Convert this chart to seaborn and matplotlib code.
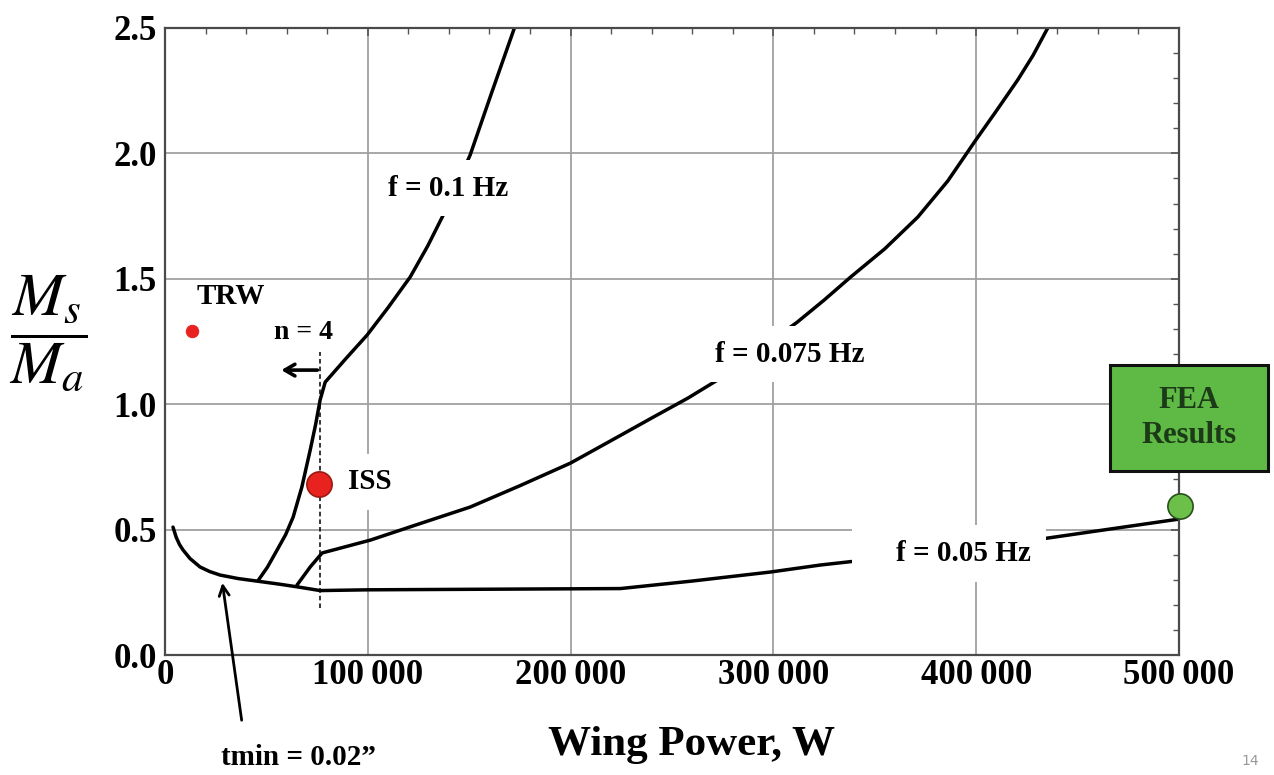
import seaborn as sns
import matplotlib.pyplot as plt
from matplotlib.patches import Rectangle

# values: wing power (W) vs mass ratio Ms/Ma
tmin_power = [3950, 5500, 7200, 8900, 12300, 17300, 22000, 27100, 36000,
              46000, 56000, 65100, 76500]
tmin_ratio = [0.510, 0.470, 0.440, 0.419, 0.385, 0.351, 0.333, 0.319, 0.305,
              0.294, 0.283, 0.272, 0.257]

f005_power = [76500, 100000, 150000, 224600, 260000, 298600, 323300, 380000,
              435000, 500000]
f005_ratio = [0.257, 0.260, 0.262, 0.265, 0.295, 0.331, 0.359, 0.410,
              0.466, 0.542]

f0075_power = [65100, 71600, 77500, 101200, 125000, 150500, 175000, 199900,
               220000, 240900, 258000, 274000, 292000, 311900, 325000, 338100,
               355000, 371200, 386000, 399800, 410000, 420500, 428000, 435300]
f0075_ratio = [0.279, 0.351, 0.407, 0.458, 0.522, 0.590, 0.675, 0.765,
               0.855, 0.949, 1.025, 1.104, 1.210, 1.328, 1.415, 1.507,
               1.620, 1.746, 1.890, 2.053, 2.170, 2.293, 2.390, 2.500]

f01_power = [46000, 50500, 55300, 59500, 63200, 67500, 71600, 74300, 76500,
             79000, 89000, 99700, 110000, 120900, 129500, 137700, 150500,
             161000, 172300]
f01_ratio = [0.298, 0.350, 0.419, 0.480, 0.550, 0.670, 0.817, 0.920, 1.017,
             1.088, 1.180, 1.276, 1.385, 1.507, 1.630, 1.762, 1.994,
             2.240, 2.500]

points_name = ["TRW", "ISS", "FEA"]
points_power = [13300, 76000, 500500]
points_ratio = [1.292, 0.682, 0.594]

n4_power = 76500
n4_range = [0.187, 1.208]

x_ticks = [0, 100000, 200000, 300000, 400000, 500000]
x_tick_labels = ["0", "100\u2009000", "200\u2009000", "300\u2009000",
                 "400\u2009000", "500\u2009000"]
y_ticks = [0.0, 0.5, 1.0, 1.5, 2.0, 2.5]
y_tick_labels = ["0.0", "0.5", "1.0", "1.5", "2.0", "2.5"]

sns.set_theme(style="white")
plt.rcParams["font.family"] = ["Liberation Serif", "DejaVu Serif"]
plt.rcParams["font.weight"] = "normal"
plt.rcParams["text.color"] = "black"
plt.rcParams["mathtext.fontset"] = "stix"

fig = plt.figure(figsize=(12.74, 7.75), dpi=100)
ax = fig.add_axes([0.1295, 0.1548, 0.7959, 0.8091])

# grid
for xv in x_ticks[1:]:
    ax.axvline(xv, color="#a0a0a0", lw=1.3, zorder=0)
for yv in y_ticks[1:]:
    ax.axhline(yv, color="#a0a0a0", lw=1.3, zorder=0)

# curves
for px, py in [(tmin_power, tmin_ratio), (f005_power, f005_ratio),
               (f0075_power, f0075_ratio), (f01_power, f01_ratio)]:
    sns.lineplot(x=px, y=py, ax=ax, color="black", lw=2.5, sort=False,
                 estimator=None, zorder=2)

# n = 4 limit
ax.plot([n4_power, n4_power], n4_range, color="black", lw=1.1,
        ls=(0, (3, 2)), zorder=3)
ax.annotate("", xy=(56000, 1.136), xytext=(n4_power, 1.136),
            arrowprops=dict(arrowstyle="->,head_length=0.6,head_width=0.35",
                            lw=2.6, color="black"), zorder=4)
ax.text(68500, 1.284, "n = 4", ha="center", va="center", fontsize=20,
        fontweight="bold", zorder=5)

# labels with white backgrounds
box = dict(facecolor="white", edgecolor="none", boxstyle="square,pad=0.5")
ax.text(139700, 1.862, "f = 0.1 Hz", ha="center", va="center", fontsize=21,
        fontweight="bold", bbox=box, zorder=5)
ax.text(308000, 1.20, "f = 0.075 Hz", ha="center", va="center", fontsize=21,
        fontweight="bold", bbox=box, zorder=5)
ax.text(427000, 0.405, "    f = 0.05 Hz", ha="right", va="center",
        fontsize=21, fontweight="bold", bbox=box, zorder=5)
ax.text(90300, 0.69, "ISS", ha="left", va="center", fontsize=21,
        fontweight="bold", bbox=box, zorder=5)
ax.text(32500, 1.43, "TRW", ha="center", va="center", fontsize=21,
        fontweight="bold", zorder=5)

# points
sns.scatterplot(x=points_power[:1], y=points_ratio[:1], ax=ax, s=80,
                color="#e8231f", edgecolor="#e8231f", zorder=6)
sns.scatterplot(x=points_power[1:2], y=points_ratio[1:2], ax=ax, s=330,
                color="#e8231f", edgecolor="#9a1a12", linewidth=1.2, zorder=6)
sns.scatterplot(x=points_power[2:], y=points_ratio[2:], ax=ax, s=330,
                color="#6cc04a", edgecolor="#2a4f1e", linewidth=1.2, zorder=6)
for c in ax.collections:
    c.set_clip_on(False)

# tmin arrow
ax.annotate("", xy=(28100, 0.299), xytext=(38000, -0.271),
            arrowprops=dict(arrowstyle="->,head_length=0.6,head_width=0.3",
                            lw=2.0, color="black"),
            annotation_clip=False, zorder=6)
fig.text(0.234, 0.023, "tmin = 0.02\u201d", ha="center", va="center",
         fontsize=21, fontweight="bold")

# axes styling
ax.set_xlim(0, 500000)
ax.set_ylim(0, 2.5)
ax.set_xticks(x_ticks)
ax.set_xticklabels(x_tick_labels, fontsize=25, fontweight="bold")
ax.set_yticks(y_ticks)
ax.set_yticklabels(y_tick_labels, fontsize=25, fontweight="bold")
ax.set_xticks(range(0, 500001, 20000), minor=True)
ax.set_yticks([i / 10 for i in range(26)], minor=True)
ax.tick_params(which="both", direction="in", top=True, right=True,
               color="#555555", labelcolor="black")
ax.tick_params(which="major", length=6, width=1.2)
ax.tick_params(which="minor", length=4, width=1.0)
ax.tick_params(axis="x", pad=3)
ax.tick_params(axis="y", pad=6)
for s in ax.spines.values():
    s.set_color("#4a4a4a")
    s.set_linewidth(1.6)
ax.set_xlabel("")
ax.set_ylabel("")

fig.text(0.543, 0.039, "Wing Power, W", ha="center", va="center",
         fontsize=31, fontweight="bold")
fig.text(0.038, 0.570, r"$\dfrac{M_s}{M_a}$", ha="center", va="center",
         fontsize=44, fontweight="normal")

# FEA results box
fig.add_artist(Rectangle((0.8713, 0.3923), 0.124, 0.1368,
                         transform=fig.transFigure, facecolor="#5fba45",
                         edgecolor="#111111", lw=2.2, zorder=10))
fig.text(0.9333, 0.4606, "FEA\nResults", ha="center", va="center",
         fontsize=22, fontweight="bold", color="#1c3a17", linespacing=1.3,
         zorder=11)

fig.text(0.981, 0.009, "14", ha="center", va="bottom", fontsize=10,
         color="#999999", fontweight="normal", family="DejaVu Sans")

fig.savefig("out.png", dpi=100)
